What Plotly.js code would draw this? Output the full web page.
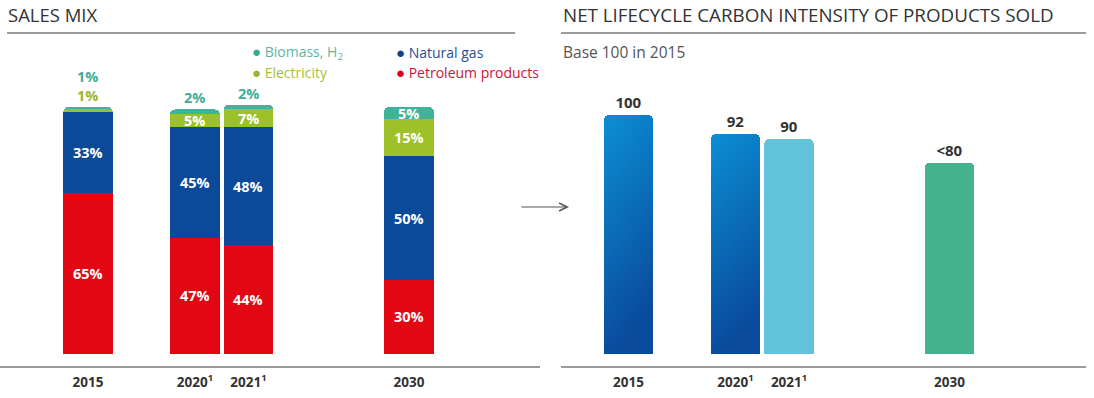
<!DOCTYPE html>
<html>
<head>
<meta charset="utf-8">
<script src="https://cdn.plot.ly/plotly-3.0.1.min.js"></script>
<style>html,body{margin:0;padding:0;background:#fff;}#chart{width:1094px;height:398px;}</style>
</head>
<body>
<div id="chart"></div>
<script>
// ---------- data ----------
const categories = ['2015', '2020', '2021', '2030'];
const tickLabels = ['2015', '2020<sup>1</sup>', '2021<sup>1</sup>', '2030'];
const petroleum = [65, 47, 44, 30];
const naturalGas = [33, 45, 48, 50];
const electricity = [1, 5, 7, 15];
const biomass = [1, 2, 2, 5];
const seriesNames = ['Petroleum products', 'Natural gas', 'Electricity', 'Biomass, H<sub>2</sub>'];
const intensity = [100, 92, 90, 80];
const intensityLabels = ['100', '92', '90', '<80'];

// ---------- layout constants ----------
const W = 1094, H = 398;
const slots = [0, 2, 3, 6];           // horizontal slot of each category
const FONT = 'Open Sans, sans-serif';
const barColors = ['#e30613', '#0b4a99', '#9cc129', '#40b39b'];
const smallLabelColors = ['#e30613', '#0b4a99', '#9ab52d', '#3fae97'];
const legendDot = ['#d9001b', '#123f8c', '#9ab52d', '#3aa98f'];
const legendText = ['#d0103a', '#1f4e96', '#a5c13a', '#5fb5a3'];
const rightColors = ['#0868b4', '#0868b4', '#62c3da', '#44b28c'];
const px = v => v / W, py = v => 1 - v / H;

const series = [petroleum, naturalGas, electricity, biomass];
const traces = series.map((vals, i) => ({
  type: 'bar', x: slots, y: vals, name: seriesNames[i],
  xaxis: 'x', yaxis: 'y', width: 0.93,
  marker: {color: barColors[i], line: {width: 0}},
  hoverinfo: 'skip', showlegend: false
}));

traces.push({
  type: 'bar', x: slots, y: intensity, xaxis: 'x2', yaxis: 'y2', width: 0.92,
  marker: {color: rightColors, line: {width: 0}},
  text: intensityLabels, textposition: 'outside', textangle: 0, cliponaxis: false,
  constraintext: 'none',
  outsidetextfont: {family: FONT, size: 15, color: '#333333', weight: 'bold'},
  hoverinfo: 'skip', showlegend: false
});

// segment labels (inside) and small-value labels above the stacks
const annotations = [];
categories.forEach((c, k) => {
  let base = 0;
  series.forEach((arr, si) => {
    const v = arr[k];
    if (v >= 3) {
      annotations.push({
        xref: 'x', yref: 'y', x: slots[k], y: base + v / 2, yanchor: 'middle', xanchor: 'center',
        text: '<b>' + v + '%</b>', showarrow: false,
        font: {family: FONT, size: 14.5, color: '#ffffff'}
      });
    }
    base += v;
  });
  const total = base;
  let shift = 0;
  [2, 3].forEach(si => {
    const v = series[si][k];
    if (v < 3) {
      annotations.push({
        xref: 'x', yref: 'y', x: slots[k], y: total, yanchor: 'bottom', yshift: shift,
        text: '<b>' + v + '%</b>', showarrow: false,
        font: {family: FONT, size: 14.5, color: smallLabelColors[si]}
      });
      shift += 19;
    }
  });
});

// titles
annotations.push({xref: 'paper', yref: 'paper', x: px(6), y: py(15), xanchor: 'left', yanchor: 'middle',
  text: 'SALES MIX', showarrow: false, font: {family: FONT, size: 18.5, color: '#333333', weight: 500}});
annotations.push({xref: 'paper', yref: 'paper', x: px(561), y: py(15), xanchor: 'left', yanchor: 'middle',
  text: 'NET LIFECYCLE CARBON INTENSITY OF PRODUCTS SOLD', showarrow: false,
  font: {family: FONT, size: 18.8, color: '#333333', weight: 500}});
annotations.push({xref: 'paper', yref: 'paper', x: px(561), y: py(52), xanchor: 'left', yanchor: 'middle',
  text: 'Base 100 in 2015', showarrow: false, font: {family: FONT, size: 15.5, color: '#555555'}});

// legend
const legendPos = [[394, 72], [394, 52], [250, 72], [250, 52]];
seriesNames.forEach((n, i) => {
  annotations.push({xref: 'paper', yref: 'paper', x: px(legendPos[i][0]), y: py(legendPos[i][1]),
    xanchor: 'left', yanchor: 'middle', showarrow: false,
    text: '<span style="color:' + legendDot[i] + ';font-size:15px">●</span> ' + n,
    font: {family: FONT, size: 14, color: legendText[i]}});
});

// arrow
annotations.push({xref: 'paper', yref: 'paper', x: px(569), y: py(207), ax: -49, ay: 0,
  axref: 'pixel', ayref: 'pixel', showarrow: true, arrowhead: 5, arrowsize: 1.6, arrowwidth: 1,
  arrowcolor: '#555555', text: ''});

const lineStyle = {color: '#7a7a7a', width: 1.5};
const shapes = [
  {type: 'line', xref: 'paper', yref: 'paper', x0: px(7), x1: px(515), y0: py(33), y1: py(33), line: lineStyle},
  {type: 'line', xref: 'paper', yref: 'paper', x0: px(561), x1: px(1086), y0: py(33), y1: py(33), line: lineStyle},
  {type: 'line', xref: 'paper', yref: 'paper', x0: px(0), x1: px(540), y0: py(367), y1: py(367), line: lineStyle},
  {type: 'line', xref: 'paper', yref: 'paper', x0: px(561), x1: px(1086), y0: py(367), y1: py(367), line: lineStyle}
];

const xCommon = {
  type: 'linear', tickmode: 'array', tickvals: slots, ticktext: tickLabels,
  showgrid: false, zeroline: false, showline: false, ticks: '', ticklabelstandoff: 5,
  tickfont: {family: FONT, size: 13.5, color: '#333333', weight: 'bold'}, automargin: false, fixedrange: true
};
const yCommon = {showgrid: false, zeroline: false, showline: false, showticklabels: false, ticks: '',
  domain: [31 / H, 1], automargin: false, fixedrange: true};

const layout = {
  width: W, height: H, margin: {l: 0, r: 0, t: 0, b: 0},
  paper_bgcolor: '#ffffff', plot_bgcolor: 'rgba(0,0,0,0)',
  barmode: 'stack', barcornerradius: 5, showlegend: false,
  xaxis: Object.assign({}, xCommon, {domain: [0, 540 / W], range: [-1.645, 8.45], anchor: 'y'}),
  yaxis: Object.assign({}, yCommon, {range: [-13 / 2.47, 354 / 2.47], anchor: 'x'}),
  xaxis2: Object.assign({}, xCommon, {domain: [540 / W, 1], range: [-1.654, 8.70], anchor: 'y2'}),
  yaxis2: Object.assign({}, yCommon, {range: [-13 / 2.39, 354 / 2.39], anchor: 'x2'}),
  annotations: annotations, shapes: shapes,
  font: {family: FONT}
};

const gd = document.getElementById('chart');
Plotly.newPlot(gd, traces, layout, {staticPlot: true, displayModeBar: false}).then(() => {
  const svg = gd.querySelector('svg.main-svg');
  const defs = svg.querySelector('defs');
  const NS = 'http://www.w3.org/2000/svg';
  const grad = document.createElementNS(NS, 'linearGradient');
  grad.setAttribute('id', 'blueGrad');
  grad.setAttribute('x1', '0'); grad.setAttribute('y1', '0');
  grad.setAttribute('x2', '0.25'); grad.setAttribute('y2', '1');
  [['0', '#0b8fd4'], ['1', '#0a4a9b']].forEach(s => {
    const st = document.createElementNS(NS, 'stop');
    st.setAttribute('offset', s[0]); st.setAttribute('stop-color', s[1]);
    grad.appendChild(st);
  });
  defs.appendChild(grad);
  const paths = gd.querySelectorAll('.x2y2 .barlayer g.point path');
  [0, 1].forEach(i => { if (paths[i]) paths[i].style.setProperty('fill', 'url(#blueGrad)'); });
});
</script>
</body>
</html>
